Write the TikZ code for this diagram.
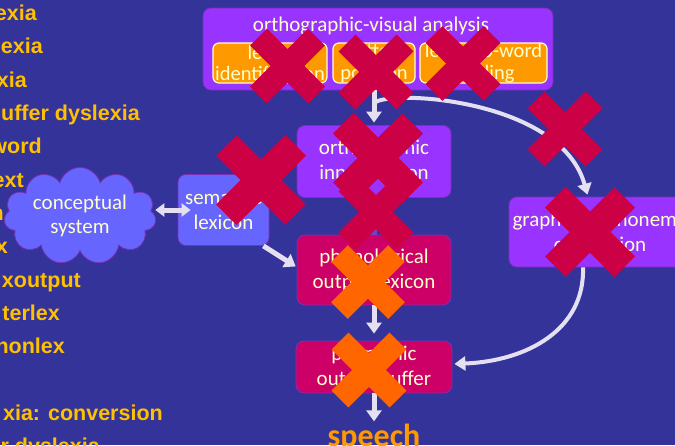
\documentclass[tikz,border=0pt]{standalone}
\usepackage{fontspec}
\setmainfont{Carlito}
\newfontfamily\listfont{Liberation Sans}
\usetikzlibrary{shapes.symbols,arrows.meta,calc}

\definecolor{bgblue}{HTML}{333399}
\definecolor{boxpurple}{HTML}{9933FF}
\definecolor{boxviolet}{HTML}{6666FF}
\definecolor{boxmagenta}{HTML}{CC0066}
\definecolor{boxorange}{HTML}{FF9900}
\definecolor{cream}{HTML}{FFFFCC}
\definecolor{listyellow}{HTML}{FFC000}
\definecolor{linkwhite}{HTML}{E4E0F2}
\definecolor{edgepurple}{HTML}{7A30B8}
\definecolor{linkpurple}{HTML}{7B3FBF}
\definecolor{crossred}{HTML}{CC0044}
\definecolor{crossorange}{HTML}{FF6600}

\tikzset{
  box/.style={rounded corners=8pt, draw=edgepurple, line width=0.8pt, text=cream,
    font=\fontsize{21}{25}\selectfont, align=center, inner sep=0pt},
  purplebox/.style={box, fill=boxpurple},
  violetbox/.style={box, fill=boxviolet},
  magentabox/.style={box, fill=boxmagenta},
  subbox/.style={rounded corners=6pt, fill=boxorange, draw=cream, line width=1.2pt,
    text=cream, font=\fontsize{20.5}{21.5}\selectfont, align=center, inner sep=0pt,
    minimum height=40pt},
  listtext/.style={font=\listfont\bfseries\fontsize{21.5}{24}\selectfont,
    text=listyellow, inner sep=0pt, anchor=base east},
  link/.style={draw=linkwhite, line width=5pt, -{Triangle[width=15pt,length=11pt]}},
  linkc/.style={draw=linkwhite, line width=4pt, -{Triangle[width=14pt,length=11pt]}},
  linkboth/.style={draw=linkwhite, line width=5pt,
    {Triangle[width=13pt,length=9pt]}-{Triangle[width=13pt,length=9pt]}},
  pics/xmark/.style args={#1/#2}{code={
    \draw[line width=#2pt] (-#1,-#1) -- (#1,#1) (-#1,#1) -- (#1,-#1);}}
}

\begin{document}
\begin{tikzpicture}[x=1pt,y=-1pt]
\useasboundingbox (0,0) rectangle (675,445);
\clip (0,0) rectangle (675,445);
\fill[bgblue] (0,0) rectangle (675,445);

% list of dyslexia types along the left edge
\node[listtext] (t1) at (37,20) {exia};
\node[listtext] (t2) at (43,53) {exia};
\node[listtext] (t3) at (27,87) {xia};
\node[listtext] (t4) at (140,120) {uffer dyslexia};
\node[listtext] (t5) at (42,153) {word};
\node[listtext] (t6) at (24,187) {ext};
\node[listtext] (t7) at (4,220) {n};
\node[listtext] (t8) at (8,253) {x};
\node[listtext] (t9) at (81,287) {xoutput};
\node[listtext] (t10) at (60,320) {terlex};
\node[listtext] (t11) at (65,353) {nonlex};
\node[listtext] (t12) at (163,420) {xia: conversion};
\node[listtext] (t13) at (100,453) {r dyslexia};

% orthographic-visual analysis with its three functions
\node[purplebox, minimum width=350pt, minimum height=82pt] (ova) at (378,49) {};
\node[text=cream, font=\fontsize{21}{25}\selectfont, inner sep=0pt, anchor=base] (ttl) at (371,31) {orthographic-visual analysis};
\node[subbox, minimum width=114pt] (lid) at (270,63) {letter\\identification};
\node[subbox, minimum width=82pt] (lpo) at (374,63) {letter\\position};
\node[subbox, minimum width=127pt] (lwb) at (483.5,63) {letter-to-word\\binding};

% lexical and sublexical routes
\node[purplebox, minimum width=154pt, minimum height=72pt] (oil) at (374,161.5) {orthographic\\input lexicon};
\node[violetbox, minimum width=91pt, minimum height=71pt] (sem) at (223.5,210) {semantic\\lexicon};
\node[cloud, cloud puffs=11, cloud ignores aspect, fill=boxviolet, draw=edgepurple, line width=0.8pt,
  minimum width=152pt, minimum height=97pt, text=cream, align=center, inner sep=0pt,
  font=\fontsize{21}{24}\selectfont] (cs) at (80,216) {conceptual\\system};
\node[magentabox, minimum width=154pt, minimum height=70pt] (pol) at (374,270) {phonological\\output lexicon};
\node[magentabox, minimum width=156pt, minimum height=52pt] (pob) at (374,367) {phonemic\\output buffer};
\node[purplebox, minimum width=182pt, minimum height=70pt] (gpc) at (600,232) {grapheme-phoneme\\conversion};
\node[text=boxorange, font=\bfseries\fontsize{32}{36}\selectfont, inner sep=0pt, anchor=base] (sp) at (374,446) {speech};

% connections
\draw[link, shorten >=2.5pt] (ova.south -| oil.north) -- (oil.north);
\coordinate (fork) at ($(ova.south -| oil.north)+(0,13)$);
\draw[linkc, shorten >=2pt] (fork) .. controls +(9,-14) and +(-28,-100) .. ([xshift=-12pt]gpc.north);
\draw[linkc, shorten >=2pt] ([xshift=-17pt]gpc.south) .. controls +(2,62) and +(75,-3) .. ([yshift=3pt]pob.east);
\draw[linkpurple, line width=6.5pt] (oil.south) -- (pol.north);
\draw[linkboth] (sem.west -| cs.east) -- ([xshift=13pt]sem.west);
\draw[link, shorten >=1pt] ([xshift=-6pt]sem.south east) -- ([yshift=3pt]pol.west);
\draw[link, shorten >=7pt] (pol.south) -- (pob.north);
\draw[link, shorten >=2pt] (pob.south) -- (sp.north);

% impairment marks
\pic[color=crossred] at (287.5,66) {xmark=29/24};
\pic[color=crossred] at (376,72) {xmark=29/24};
\pic[color=crossred] at (463,63.5) {xmark=29/24};
\pic[color=crossred] at (565,129) {xmark=29/24};
\pic[color=crossred] at (590,232) {xmark=34.7/29};
\pic[color=crossred] at (261,180) {xmark=34.7/29};
\pic[color=crossred] at (376,212) {xmark=29/24};
\pic[color=crossred] at (378,158) {xmark=34.7/29};
\pic[color=crossorange] at (368,282) {xmark=28.5/23.5};
\pic[color=crossorange] at (369,370) {xmark=29/24};
\end{tikzpicture}
\end{document}
